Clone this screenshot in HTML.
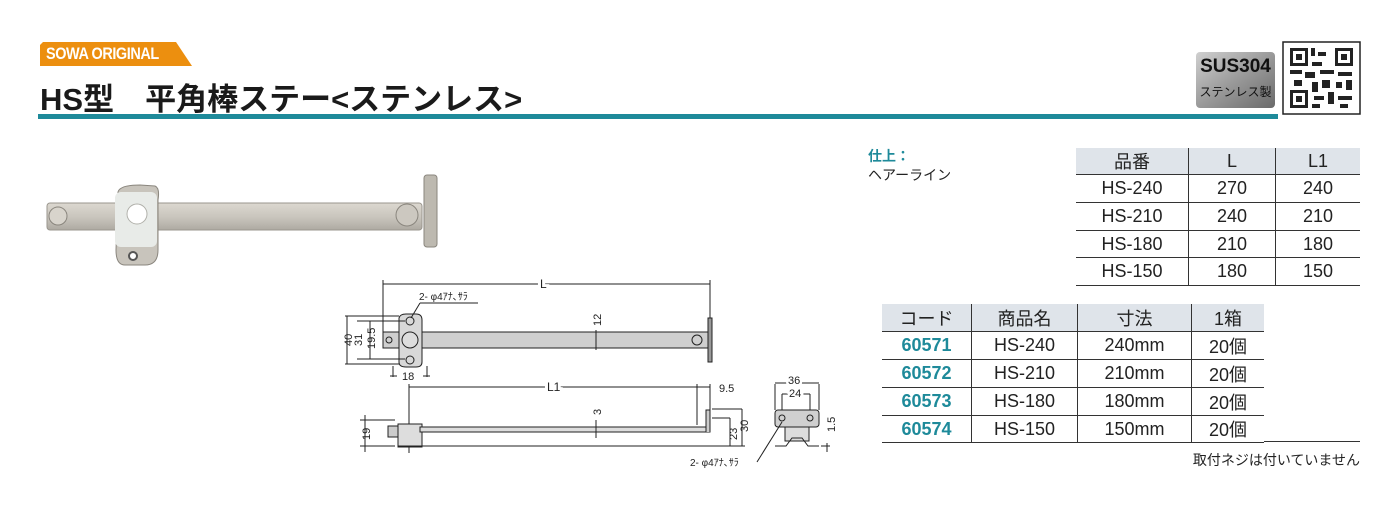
<!DOCTYPE html>
<html><head><meta charset="utf-8"><style>
body{margin:0;width:1393px;height:514px;background:#fff;position:relative;overflow:hidden;font-family:"Liberation Sans","Noto Sans CJK JP",sans-serif;color:#222}
.a{position:absolute;white-space:nowrap}
table{border-collapse:collapse;position:absolute;font-size:18px}
td{text-align:center;padding:0;border-bottom:1.5px solid #333;white-space:nowrap}
td+td{border-left:1.5px solid #333}
tr.h td{background:#dfe4ea}
.c{color:#1e8a9a;font-weight:bold}
</style></head><body>
<svg class="a" style="left:0;top:0" width="1393" height="514">
<polygon points="40,45 43,42 176,42 192,66 40,66" fill="#ec8f0f"/>
<rect x="38" y="114" width="1240" height="5" fill="#1e8a9a"/>
<defs><linearGradient id="g" x1="0" y1="0" x2="1" y2="1"><stop offset="0" stop-color="#d0d0d0"/><stop offset="0.5" stop-color="#9a9a9a"/><stop offset="1" stop-color="#6a6a6a"/></linearGradient>
<linearGradient id="m" x1="0" y1="0" x2="0" y2="1"><stop offset="0" stop-color="#dcd8d0"/><stop offset="0.5" stop-color="#cac6be"/><stop offset="1" stop-color="#aeaaa2"/></linearGradient></defs>
<rect x="1196" y="52" width="79" height="56" rx="4" fill="url(#g)"/>
<rect x="1283" y="42" width="77" height="72" fill="#fff" stroke="#222" stroke-width="1.5"/>
<g fill="#222"><rect x="1290" y="48" width="18" height="18"/><rect x="1335" y="48" width="18" height="18"/><rect x="1290" y="90" width="18" height="18"/></g>
<g fill="#fff"><rect x="1293" y="51" width="12" height="12"/><rect x="1338" y="51" width="12" height="12"/><rect x="1293" y="93" width="12" height="12"/></g>
<g fill="#222"><rect x="1296" y="54" width="6" height="6"/><rect x="1341" y="54" width="6" height="6"/><rect x="1296" y="96" width="6" height="6"/>
<rect x="1311" y="48" width="4" height="8"/><rect x="1318" y="52" width="8" height="4"/><rect x="1312" y="62" width="10" height="4"/><rect x="1290" y="70" width="12" height="4"/><rect x="1305" y="72" width="10" height="6"/><rect x="1320" y="70" width="14" height="4"/><rect x="1338" y="72" width="14" height="4"/><rect x="1294" y="80" width="8" height="6"/><rect x="1312" y="82" width="6" height="10"/><rect x="1322" y="80" width="8" height="8"/><rect x="1336" y="82" width="6" height="6"/><rect x="1346" y="80" width="6" height="10"/><rect x="1314" y="96" width="10" height="4"/><rect x="1328" y="92" width="6" height="12"/><rect x="1338" y="96" width="14" height="4"/><rect x="1312" y="104" width="8" height="4"/><rect x="1340" y="104" width="8" height="4"/></g>
<!-- photo -->
<rect x="424" y="175" width="13" height="72" rx="3" fill="#bdb9b0" stroke="#8a867e"/>
<rect x="47" y="203" width="375" height="27" rx="3" fill="url(#m)" stroke="#9a968e"/>
<circle cx="58" cy="216" r="9" fill="#d8d4cc" stroke="#8a867e"/>
<circle cx="407" cy="215" r="11" fill="#ccc8c0" stroke="#8a867e"/>
<path d="M118 192 Q120 185 140 185 L155 186 Q160 188 158 200 L158 250 Q158 265 145 265 L125 265 Q116 265 116 250 Z" fill="#c8c4bc" stroke="#8a867e"/>
<rect x="115" y="192" width="42" height="55" rx="6" fill="#e8ebe8"/>
<circle cx="137" cy="214" r="10" fill="#fff" stroke="#b0b0aa"/>
<circle cx="133" cy="256" r="4" fill="#fff" stroke="#555" stroke-width="2"/>
<!-- drawing top -->
<g stroke="#222" stroke-width="1" fill="none">
<line x1="383" y1="284" x2="710" y2="284"/><line x1="383" y1="280" x2="383" y2="332"/><line x1="710" y1="280" x2="710" y2="318"/>
<rect x="383" y="332" width="325" height="16" fill="#cfcfcf"/>
<path d="M399 318 Q400 314 406 314 L416 314 Q422 314 422 320 L422 362 Q422 367 416 367 L406 367 Q399 367 399 362 Z" fill="#d8d8d8"/>
<circle cx="410" cy="340" r="8" fill="#ddd"/><circle cx="410" cy="321" r="4"/><circle cx="410" cy="360" r="4"/><circle cx="389" cy="340" r="3"/><circle cx="697" cy="340" r="5"/>
<rect x="708" y="318" width="4" height="44" fill="#999"/>
<line x1="345" y1="316" x2="399" y2="316"/><line x1="345" y1="364" x2="399" y2="364"/><line x1="347" y1="316" x2="347" y2="364"/>
<line x1="357" y1="321" x2="405" y2="321"/><line x1="357" y1="359" x2="405" y2="359"/><line x1="370" y1="321" x2="370" y2="359"/>
<line x1="393" y1="366" x2="393" y2="377"/><line x1="427" y1="366" x2="427" y2="377"/><line x1="390" y1="376" x2="397" y2="376"/><line x1="423" y1="376" x2="430" y2="376"/>
<line x1="596" y1="330" x2="596" y2="350"/>
<line x1="411" y1="318" x2="420" y2="303"/><line x1="420" y1="303" x2="478" y2="303"/>
<line x1="409" y1="387" x2="710" y2="387"/><line x1="409" y1="384" x2="409" y2="453"/><line x1="697" y1="384" x2="697" y2="425"/><line x1="710" y1="384" x2="710" y2="410"/>
<rect x="398" y="424" width="24" height="23" fill="#ddd"/><rect x="388" y="426" width="10" height="11" fill="#ccc"/>
<rect x="420" y="427" width="290" height="5" fill="#ddd"/>
<path d="M706 432 L706 410 L710 410 L710 432" fill="#ccc"/>
<line x1="712" y1="409" x2="742" y2="409"/><line x1="712" y1="418" x2="730" y2="418"/><line x1="398" y1="446" x2="745" y2="446"/>
<line x1="360" y1="420" x2="395" y2="420"/><line x1="360" y1="446" x2="395" y2="446"/><line x1="365" y1="415" x2="365" y2="452"/>
<line x1="730" y1="418" x2="730" y2="446"/><line x1="742" y1="409" x2="742" y2="446"/>
<line x1="596" y1="420" x2="596" y2="438"/>
<rect x="775" y="410" width="44" height="17" rx="3" fill="#d0d0d0"/>
<rect x="785" y="427" width="24" height="14" fill="#ddd"/>
<path d="M775 446 L786 446 L792 438 L802 438 L808 446 L819 446" />
<circle cx="782" cy="418" r="3"/><circle cx="810" cy="418" r="3"/>
<line x1="775" y1="384" x2="775" y2="410"/><line x1="819" y1="384" x2="819" y2="410"/><line x1="775" y1="383" x2="819" y2="383"/>
<line x1="782" y1="394" x2="782" y2="410"/><line x1="810" y1="394" x2="810" y2="410"/><line x1="782" y1="394" x2="810" y2="394"/>
<line x1="827" y1="443" x2="827" y2="452"/><line x1="821" y1="446" x2="830" y2="446"/>
<line x1="782" y1="422" x2="757" y2="462"/>
</g>
<g font-size="11" fill="#222" font-family="Liberation Sans,Noto Sans CJK JP,sans-serif">
<text x="540" y="288" font-size="12" fill="#222" stroke="#fff" stroke-width="6" paint-order="stroke">L</text>
<text x="419" y="300" font-size="10">2- φ4ｱﾅ､ｻﾗ</text>
<text x="402" y="380">18</text>
<text x="547" y="391" font-size="12" stroke="#fff" stroke-width="6" paint-order="stroke">L1</text>
<text x="719" y="392">9.5</text>
<text x="690" y="466" font-size="10">2- φ4ｱﾅ､ｻﾗ</text>
<text x="788" y="384" stroke="#fff" stroke-width="5" paint-order="stroke">36</text>
<text x="789" y="397" stroke="#fff" stroke-width="5" paint-order="stroke">24</text>
<text transform="translate(352,346) rotate(-90)">40</text>
<text transform="translate(362,346) rotate(-90)">31</text>
<text transform="translate(375,349) rotate(-90)">19.5</text>
<text transform="translate(601,326) rotate(-90)">12</text>
<text transform="translate(601,415) rotate(-90)">3</text>
<text transform="translate(370,440) rotate(-90)">19</text>
<text transform="translate(737,440) rotate(-90)">23</text>
<text transform="translate(748,432) rotate(-90)">30</text>
<text transform="translate(835,432) rotate(-90)">1.5</text>
</g>
</svg>
<div class="a" style="left:46px;top:44px;font-size:17px;font-weight:bold;color:#fff;letter-spacing:-0.5px;transform:scaleX(0.85);transform-origin:left">SOWA ORIGINAL</div>
<div class="a" style="left:40px;top:74px;font-size:31px;font-weight:bold;color:#1a1a1a;white-space:pre">HS型　平角棒ステー&lt;ステンレス&gt;</div>
<div class="a" style="left:1196px;top:56px;width:79px;text-align:center;font-size:19px;font-weight:bold;color:#111">SUS304</div>
<div class="a" style="left:1196px;top:83px;width:79px;text-align:center;font-size:12px;color:#111">ステンレス製</div>
<div class="a c" style="left:868px;top:146px;font-size:14px">仕上：</div>
<div class="a" style="left:868px;top:165px;font-size:14px">ヘアーライン</div>
<table style="left:1076px;top:148px;width:284px">
<tr class="h"><td style="height:26px;width:112px">品番</td><td style="width:86px">L</td><td>L1</td></tr>
<tr><td style="height:27px">HS-240</td><td>270</td><td>240</td></tr>
<tr><td style="height:27px">HS-210</td><td>240</td><td>210</td></tr>
<tr><td style="height:26px">HS-180</td><td>210</td><td>180</td></tr>
<tr><td style="height:27px">HS-150</td><td>180</td><td>150</td></tr>
</table>
<table style="left:882px;top:304px;width:382px">
<tr class="h"><td style="height:27px;width:89px">コード</td><td style="width:105px">商品名</td><td style="width:113px">寸法</td><td>1箱</td></tr>
<tr><td class="c" style="height:27px">60571</td><td>HS-240</td><td>240mm</td><td>20個</td></tr>
<tr><td class="c" style="height:27px">60572</td><td>HS-210</td><td>210mm</td><td>20個</td></tr>
<tr><td class="c" style="height:27px">60573</td><td>HS-180</td><td>180mm</td><td>20個</td></tr>
<tr><td class="c" style="height:26px">60574</td><td>HS-150</td><td>150mm</td><td>20個</td></tr>
</table>
<div class="a" style="left:1264px;top:441px;width:96px;border-top:1.5px solid #333"></div>
<div class="a" style="right:33px;top:450px;font-size:14px">取付ネジは付いていません</div>
</body></html>
